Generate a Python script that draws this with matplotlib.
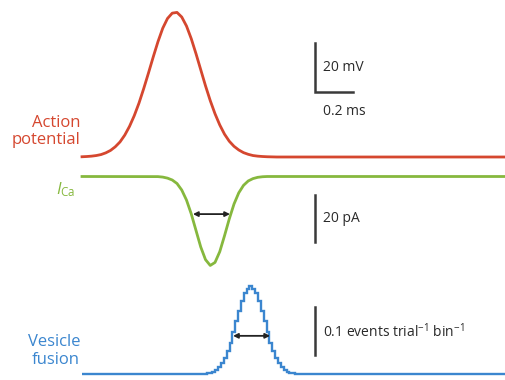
import numpy as np
import matplotlib.pyplot as plt

plt.rcParams['font.family'] = ['Open Sans', 'DejaVu Sans']
plt.rcParams['mathtext.fontset'] = 'custom'
plt.rcParams['mathtext.rm'] = 'Open Sans'
plt.rcParams['mathtext.it'] = 'Open Sans:italic'

# --- data -------------------------------------------------------------
# action potential, mV relative to rest, sampled every 0.025 ms from t = 0
ap_dt = 0.025
ap_mv = [0.1, 0.2, 0.35, 0.6, 1.0, 1.7, 2.7, 4.2, 6.2, 9.0, 12.6, 17.0,
         22.2, 28.2, 34.6, 41.2, 47.5, 53.0, 57.0, 59.2, 59.5, 57.6, 53.9,
         48.7, 42.5, 35.9, 29.3, 23.2, 17.8, 13.2, 9.4, 6.5, 4.4, 2.9,
         1.8, 1.1, 0.6, 0.35, 0.2, 0.1, 0.05, 0.0]
t_end = 2.23
rest_mv = -70.0

# calcium current, pA (inward), sampled every 0.025 ms from t = 0.4
ica_t0 = 0.4
ica_dt = 0.025
ica_pa = [0.05, 0.25, 0.7, 1.5, 3.0, 5.8, 10.1, 16.0, 23.1, 30.2, 35.6, 38.1,
          36.8, 32.2, 25.4, 18.2, 11.8, 7.0, 3.8, 1.9, 0.9, 0.35, 0.1, 0.0]
ica_fwhm = (0.584, 0.779, 16.1)

# vesicle fusion histogram, events trial^-1 bin^-1
bin_w = 0.015
bin_start = 0.6565
ves_rate = [0.0015, 0.0028, 0.0049, 0.0084, 0.0140, 0.0220, 0.033, 0.047,
            0.065, 0.087, 0.110, 0.131, 0.151, 0.167, 0.177, 0.182, 0.177,
            0.167, 0.151, 0.131, 0.110, 0.087, 0.065, 0.047, 0.033, 0.0220,
            0.0140, 0.0084, 0.0049, 0.0028, 0.0015]
ves_fwhm = (0.795, 0.99, 0.079)

red = '#d5472f'
green = '#86b83e'
blue = '#3b86cf'
bar_col = '#3a3a3a'
txt_col = '#2a2a2a'

W, H = 506, 380
px_per_ms = 190.0
x0_px = 82

fig = plt.figure(figsize=(W / 100, H / 100), dpi=100)


def layer(base_px, px_per_unit, base_val=0.0, sign=1):
    ax = fig.add_axes([0, 0, 1, 1])
    ax.set_xlim(-x0_px / px_per_ms, (W - x0_px) / px_per_ms)
    lo = base_val - sign * (H - base_px) / px_per_unit
    hi = base_val + sign * base_px / px_per_unit
    ax.set_ylim(lo, hi)
    ax.axis('off')
    ax.patch.set_alpha(0)
    return ax


arrow_props = dict(arrowstyle='<|-|>', color='#222', lw=1.3,
                   mutation_scale=7, shrinkA=0, shrinkB=0)

# action potential
ax1 = layer(157, 2.43, rest_mv)
t_ap = np.append(np.arange(len(ap_mv)) * ap_dt, t_end)
v_ap = rest_mv + np.append(ap_mv, 0.0)
ax1.plot(t_ap, v_ap, color=red, lw=2.0)
bx, by = 1.226, rest_mv + 26.9
ax1.plot([bx, bx, bx + 0.2], [by + 20, by, by], color=bar_col, lw=1.8,
         solid_joinstyle='miter')
ax1.text(bx + 0.042, by + 10.0, '20 mV', fontsize=10, color=txt_col,
         va='center', ha='left')
ax1.text(bx + 0.042, by - 8.0, '0.2 ms', fontsize=10, color=txt_col,
         va='center', ha='left')
ax1.text(-0.01, rest_mv + 10.5, 'Action\npotential', color=red, fontsize=12,
         ha='right', va='center', linespacing=1.15)

# calcium current (inward plotted downward)
ax2 = layer(176.5, 2.335, 0.0, sign=-1)
t_ica = ica_t0 + np.arange(len(ica_pa)) * ica_dt
t_ica = np.concatenate([[0.0], t_ica, [t_end]])
i_ica = np.concatenate([[0.0], ica_pa, [0.0]])
ax2.plot(t_ica, i_ica, color=green, lw=2.0)
ax2.annotate('', xy=(ica_fwhm[1], ica_fwhm[2]),
             xytext=(ica_fwhm[0], ica_fwhm[2]), arrowprops=arrow_props)
ax2.plot([bx, bx], [8.1, 28.1], color=bar_col, lw=1.8)
ax2.text(bx + 0.042, 18.0, '20 pA', fontsize=10, color=txt_col,
         va='center', ha='left')
ax2.text(-0.035, 5.5, r'$I_{\mathrm{Ca}}$', color=green, fontsize=12,
         ha='right', va='center')

# vesicle fusion
ax3 = layer(374, 483.0, 0.0)
edges = bin_start + np.arange(len(ves_rate) + 1) * bin_w
edges = np.concatenate([[0.0], edges, [t_end]])
vals = np.concatenate([[0.0], ves_rate, [0.0]])
ax3.stairs(vals, edges, baseline=None, color=blue, lw=1.7)
ax3.annotate('', xy=(ves_fwhm[1], ves_fwhm[2]),
             xytext=(ves_fwhm[0], ves_fwhm[2]), arrowprops=arrow_props)
ax3.plot([bx, bx], [0.0394, 0.1394], color=bar_col, lw=1.8)
ax3.text(bx + 0.042, 0.088, r'0.1 events trial$^{-1}$ bin$^{-1}$',
         fontsize=10, color=txt_col, va='center', ha='left')
ax3.text(-0.01, 0.047, 'Vesicle\nfusion', color=blue, fontsize=12,
         ha='right', va='center', linespacing=1.15)

fig.savefig('out.png', dpi=100)
